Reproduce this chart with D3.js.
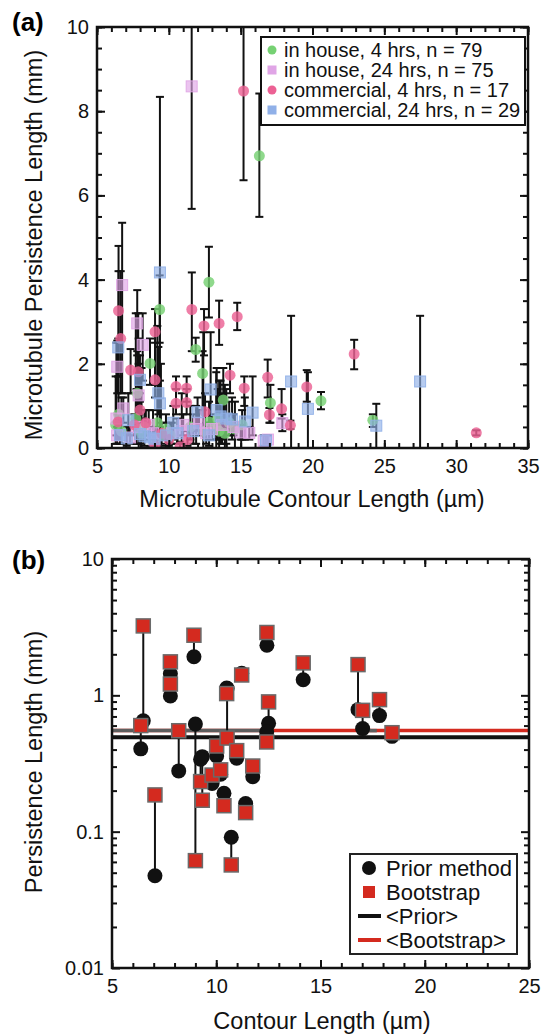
<!DOCTYPE html>
<html>
<head>
<meta charset="utf-8">
<script src="https://cdn.jsdelivr.net/npm/d3@7"></script>
<style>
  body { margin: 0; background: #fff; }
  svg { display: block; font-family: "Liberation Sans", Arial, sans-serif; }
  .tick text { font-size: 20px; fill: #111; }
</style>
</head>
<body>
<div id="chart"></div>
<script>
// ---------- panel (a) data: [contour length, persistence length, lower, upper] ----------
const inHouse4 = [
  [16.3, 6.94, 5.49, 8.42], [9.36, 3.29, 2.5, 4.1], [12.79, 3.94, 3.1, 4.78],
  [11.87, 2.34, 2.05, 2.62], [12.35, 1.77, 0.9, 2.3], [8.69, 2.01, 1.5, 2.6],
  [13.79, 1.14, 0.2, 1.9], [17.07, 1.07, 0.6, 1.5], [20.59, 1.12, 0.92, 1.33],
  [24.2, 0.66, 0.5, 0.8], [12.8, 0.62, 0.2, 1.1], [7.8, 1.3, 0.6, 2.3],
  [6.7, 0.4, 0.1, 1.2], [8.3, 0.5, 0.2, 0.9], [10.1, 0.3, 0.1, 0.6],
  [11.5, 0.5, 0.2, 1.0], [13.4, 0.7, 0.2, 1.4], [14.2, 0.6, 0.3, 1.1],
  [9.8, 0.45, 0.2, 0.8], [15.1, 0.55, 0.2, 0.9], [6.3, 0.55, 0.1, 1.7],
  [6.5, 0.8, 0.2, 4.2], [7.7, 0.7, 0.1, 3.2], [7.9, 0.45, 0, 2.6],
  [8.1, 0.35, 0, 1.9], [9.2, 0.6, 0, 2.9], [9.45, 0.3, 0, 2.0],
  [13.3, 0.5, 0, 1.8], [13.5, 0.4, 0, 1.6], [13.9, 0.35, 0, 1.5],
  [14.6, 0.45, 0, 1.1], [12.4, 0.4, 0, 2.75]
];
const inHouse24 = [
  [11.59, 8.59, 5.68, 11.5], [6.75, 3.87, 1.3, 5.35], [7.8, 2.96, 2.2, 3.75],
  [8.18, 2.45, 1.6, 3.2], [6.41, 1.93, 1.3, 2.55], [6.83, 0.94, 0.6, 1.2],
  [7.9, 1.25, 0.8, 2.0], [15.0, 0.37, 0.2, 0.55], [15.6, 0.36, 0.2, 0.5],
  [16.9, 0.2, 0.1, 0.3], [17.9, 0.59, 0.4, 0.8], [16.6, 0.17, 0.05, 0.3],
  [12.1, 0.6, 0.3, 0.9], [11.0, 0.55, 0.3, 0.8], [10.2, 0.35, 0.1, 0.6],
  [9.0, 0.2, 0.05, 0.5], [7.3, 0.25, 0.1, 0.5], [14.5, 0.5, 0.3, 0.8],
  [12.6, 0.35, 0.1, 0.6], [8.6, 0.55, 0.3, 0.9], [13.0, 0.45, 0.2, 0.8],
  [6.4, 0.3, 0.1, 0.5], [6.35, 0.7, 0.3, 2.5], [7.75, 0.5, 0.1, 1.4],
  [8.9, 0.35, 0.1, 0.9], [10.9, 0.4, 0.1, 1.3], [11.9, 0.45, 0.1, 1.0],
  [13.7, 0.55, 0.1, 1.3]
];
const commercial4 = [
  [15.2, 8.48, 6.36, 11.5], [6.5, 3.26, 1.7, 4.8], [6.65, 2.6, 1.3, 4.2],
  [9.04, 2.76, 1.5, 3.3], [11.6, 3.29, 2.3, 4.17], [12.45, 2.9, 2.2, 3.3],
  [13.5, 2.96, 2.45, 3.5], [14.76, 3.12, 2.8, 3.45], [22.9, 2.23, 1.87, 2.57],
  [16.88, 1.68, 1.2, 2.1], [14.26, 1.73, 1.3, 2.0], [15.25, 1.42, 1.0, 1.7],
  [19.6, 1.45, 1.1, 1.85], [17.85, 0.93, 0.7, 1.4], [7.34, 1.85, 1.3, 2.35],
  [7.87, 1.81, 1.3, 3.2], [9.04, 1.62, 1.2, 2.5], [10.5, 1.46, 1.0, 1.7],
  [11.24, 1.42, 1.1, 1.7], [10.5, 1.06, 0.8, 1.4], [11.24, 1.08, 0.8, 1.4],
  [18.46, 0.54, 0.45, 0.65], [17.0, 0.79, 0.6, 0.95], [31.4, 0.36, 0.3, 0.42],
  [7.99, 0.9, 0.5, 1.3], [6.48, 0.62, 0.45, 0.8], [9.04, 0.05, 0.0, 0.2],
  [10.78, 0.03, 0, 0.15], [11.3, 0.2, 0.05, 0.4], [12.52, 0.86, 0.5, 1.3],
  [8.4, 0.6, 0.3, 0.9], [10.0, 0.2, 0.05, 0.4], [9.5, 0.35, 0.1, 0.6],
  [7.6, 0.55, 0.3, 0.8]
];
const commercial24 = [
  [9.38, 4.17, 0, 8.34], [6.48, 2.39, 1.7, 2.6], [7.99, 1.62, 1.1, 2.2],
  [9.27, 1.3, 0.8, 2.4], [9.38, 1.06, 0.5, 1.6], [12.91, 1.39, 0.6, 2.75],
  [18.51, 1.58, 0, 3.14], [27.49, 1.58, 0, 3.14], [19.68, 0.93, 0, 1.8],
  [24.44, 0.53, 0, 1.05], [15.83, 0.84, 0.3, 1.7], [13.33, 0.9, 0.2, 1.9],
  [13.6, 0.75, 0.1, 1.6], [14.0, 0.7, 0.1, 1.4], [14.4, 0.68, 0.2, 1.2],
  [15.29, 0.63, 0.2, 1.2], [7.18, 0.66, 0.3, 1.3], [6.6, 0.31, 0.1, 0.6],
  [7.07, 0.23, 0.05, 0.5], [7.99, 0.33, 0.1, 0.7], [8.3, 0.28, 0.05, 0.6],
  [8.7, 0.25, 0.05, 0.5], [9.0, 0.22, 0.0, 0.5], [10.31, 0.6, 0.2, 1.0],
  [9.8, 0.3, 0.05, 0.6], [10.6, 0.35, 0.1, 0.7], [12.0, 0.85, 0.4, 1.2],
  [12.8, 0.3, 0.05, 0.6], [11.7, 0.4, 0.1, 0.8], [16.76, 0.18, 0.05, 0.3]
];
const seriesA = [
  { label: "in house, 4 hrs, n = 79", shape: "circle", color: "#76d173", data: inHouse4 },
  { label: "in house, 24 hrs, n = 75", shape: "square", color: "#e0a5e6", data: inHouse24 },
  { label: "commercial, 4 hrs, n = 17", shape: "circle", color: "#ec6194", data: commercial4 },
  { label: "commercial, 24 hrs, n = 29", shape: "square", color: "#90b0e8", data: commercial24 }
];
const aXTicks = [5, 10, 15, 20, 25, 30, 35];
const aYTicks = [0, 2, 4, 6, 8, 10];

// ---------- panel (b) data ----------
const bContour = [6.50, 6.38, 7.06, 7.80, 7.80, 8.20, 8.93, 9.00, 9.33, 9.25, 9.80, 10.02, 10.21, 10.37,
  10.50, 10.52, 10.98, 10.72, 11.22, 11.41, 11.75, 12.43, 12.51, 12.42, 14.17, 16.80, 17.02, 17.83, 18.43];
const bPrior = [0.65, 0.405, 0.0475, 1.44, 0.99, 0.279, 1.92, 0.616, 0.355, 0.34, 0.226, 0.359, 0.264, 0.191,
  1.13, 1.12, 0.346, 0.091, 1.45, 0.161, 0.253, 2.33, 0.623, 0.538, 1.30, 0.785, 0.57, 0.71, 0.50];
const bBoot = [3.23, 0.60, 0.186, 1.76, 1.21, 0.55, 2.76, 0.0613, 0.17, 0.233, 0.26, 0.425, 0.284, 0.155,
  1.03, 0.486, 0.393, 0.057, 1.41, 0.138, 0.303, 2.89, 0.895, 0.455, 1.73, 1.68, 0.776, 0.93, 0.532];
const priorMean = 0.493;
const bootMean = 0.551;
const bootGraySpans = [[5, 12.6], [17.15, 17.7]];
const bXTicks = [5, 10, 15, 20, 25];
const bYTicks = [0.01, 0.1, 1, 10];

const W = 549, H = 1036;
const svg = d3.select("#chart").append("svg").attr("width", W).attr("height", H);

function frameAxes(g, x, y, xMaj, xMin, yMaj, yMin, xFmt, yFmt) {
  const [x0, x1] = x.range(), [y0, y1] = y.range();
  const ax = [
    g.append("g").attr("transform", `translate(0,${y0})`)
      .call(d3.axisBottom(x).tickValues(xMaj).tickSize(-8).tickPadding(11).tickFormat(xFmt)),
    g.append("g").attr("transform", `translate(0,${y0})`)
      .call(d3.axisBottom(x).tickValues(xMin).tickSize(-5).tickFormat("")),
    g.append("g").attr("transform", `translate(0,${y1})`)
      .call(d3.axisTop(x).tickValues(xMaj).tickSize(-8).tickFormat("")),
    g.append("g").attr("transform", `translate(0,${y1})`)
      .call(d3.axisTop(x).tickValues(xMin).tickSize(-5).tickFormat("")),
    g.append("g").attr("transform", `translate(${x0},0)`)
      .call(d3.axisLeft(y).tickValues(yMaj).tickSize(-8).tickPadding(8).tickFormat(yFmt)),
    g.append("g").attr("transform", `translate(${x0},0)`)
      .call(d3.axisLeft(y).tickValues(yMin).tickSize(-5).tickFormat("")),
    g.append("g").attr("transform", `translate(${x1},0)`)
      .call(d3.axisRight(y).tickValues(yMaj).tickSize(-8).tickFormat("")),
    g.append("g").attr("transform", `translate(${x1},0)`)
      .call(d3.axisRight(y).tickValues(yMin).tickSize(-5).tickFormat(""))
  ];
  ax.forEach(a => {
    a.select(".domain").remove();
    a.selectAll(".tick line").attr("stroke", "#111").attr("stroke-width", 2);
  });
  g.append("rect")
    .attr("x", x0).attr("y", y1).attr("width", x1 - x0).attr("height", y0 - y1)
    .attr("fill", "none").attr("stroke", "#111").attr("stroke-width", 2.5);
}

// ================= panel (a) =================
const xA = d3.scaleLinear().domain([5, 35]).range([97, 528]);
const yA = d3.scaleLinear().domain([0, 10]).range([448, 27]);
const gA = svg.append("g");

svg.append("clipPath").attr("id", "clipA").append("rect")
  .attr("x", xA(5)).attr("y", yA(10)).attr("width", xA(35) - xA(5)).attr("height", yA(0) - yA(10));

const plotA = gA.append("g").attr("clip-path", "url(#clipA)");

// error bars
seriesA.forEach(s => {
  const eb = plotA.append("g").attr("stroke", "#111").attr("stroke-width", 2).attr("fill", "none");
  s.data.forEach(d => {
    eb.append("line").attr("x1", xA(d[0])).attr("x2", xA(d[0])).attr("y1", yA(d[2])).attr("y2", yA(d[3]));
    [d[2], d[3]].forEach(v => {
      eb.append("line").attr("x1", xA(d[0]) - 4).attr("x2", xA(d[0]) + 4).attr("y1", yA(v)).attr("y2", yA(v));
    });
  });
});

// markers
seriesA.forEach(s => {
  const g = plotA.append("g").attr("fill", s.color).attr("fill-opacity", 0.82);
  if (s.shape === "circle") {
    g.selectAll("circle").data(s.data).join("circle")
      .attr("cx", d => xA(d[0])).attr("cy", d => yA(d[1])).attr("r", 5.5);
  } else {
    g.selectAll("rect").data(s.data).join("rect")
      .attr("x", d => xA(d[0]) - 5.5).attr("y", d => yA(d[1]) - 5.5)
      .attr("width", 11).attr("height", 11)
      .attr("stroke", s.color).attr("stroke-width", 1).attr("stroke-opacity", 0.9)
      .attr("fill-opacity", 0.65);
  }
});

frameAxes(gA, xA, yA, aXTicks, d3.range(5, 36, 1), aYTicks, d3.range(0, 10.01, 0.5),
  d3.format("d"), d3.format("d"));

// legend (a)
const legA = gA.append("g");
legA.append("rect").attr("x", 261).attr("y", 37).attr("width", 264).attr("height", 88)
  .attr("fill", "#fff").attr("stroke", "#111").attr("stroke-width", 2);
seriesA.forEach((s, i) => {
  const cy = 50 + i * 20;
  if (s.shape === "circle") {
    legA.append("circle").attr("cx", 272).attr("cy", cy).attr("r", 4.5).attr("fill", s.color);
  } else {
    legA.append("rect").attr("x", 267.5).attr("y", cy - 4.5).attr("width", 9).attr("height", 9).attr("fill", s.color);
  }
  legA.append("text").attr("x", 284).attr("y", cy + 7).attr("font-size", 20).attr("fill", "#111").text(s.label);
});

svg.append("text").attr("x", 12).attr("y", 31).attr("font-size", 26).attr("font-weight", "bold").text("(a)");
svg.append("text").attr("x", 312).attr("y", 507).attr("text-anchor", "middle").attr("font-size", 23.5)
  .attr("fill", "#111").text("Microtubule Contour Length (\u00b5m)");
svg.append("text").attr("transform", "translate(42,245) rotate(-90)").attr("text-anchor", "middle")
  .attr("font-size", 23.5).attr("fill", "#111").text("Microtubule Persistence Length (mm)");

// ================= panel (b) =================
const xB = d3.scaleLinear().domain([5, 25]).range([112, 529]);
const yB = d3.scaleLog().domain([0.01, 10]).range([968, 559]);
const gB = svg.append("g");
const pairs = bContour.map((c, i) => ({ x: c, prior: bPrior[i], boot: bBoot[i] }));

const yMinorB = [];
[0.01, 0.1, 1].forEach(dec => d3.range(2, 10).forEach(k => yMinorB.push(dec * k)));

// mean lines
gB.append("line").attr("x1", xB(5)).attr("x2", xB(25)).attr("y1", yB(bootMean)).attr("y2", yB(bootMean))
  .attr("stroke", "#d42a1f").attr("stroke-width", 3.5);
gB.selectAll("line.gray").data(bootGraySpans).join("line").attr("class", "gray")
  .attr("x1", d => xB(d[0])).attr("x2", d => xB(d[1])).attr("y1", yB(bootMean)).attr("y2", yB(bootMean))
  .attr("stroke", "#5e5e5e").attr("stroke-width", 3.5);
gB.append("line").attr("x1", xB(5)).attr("x2", xB(25)).attr("y1", yB(priorMean)).attr("y2", yB(priorMean))
  .attr("stroke", "#111").attr("stroke-width", 4);

// connectors
gB.selectAll("line.pair").data(pairs).join("line").attr("class", "pair")
  .attr("x1", d => xB(d.x)).attr("x2", d => xB(d.x))
  .attr("y1", d => yB(d.prior)).attr("y2", d => yB(d.boot))
  .attr("stroke", "#111").attr("stroke-width", 2);

gB.selectAll("circle.prior").data(pairs).join("circle").attr("class", "prior")
  .attr("cx", d => xB(d.x)).attr("cy", d => yB(d.prior)).attr("r", 7.5).attr("fill", "#111");

gB.selectAll("rect.boot").data(pairs).join("rect").attr("class", "boot")
  .attr("x", d => xB(d.x) - 7).attr("y", d => yB(d.boot) - 7).attr("width", 14).attr("height", 14)
  .attr("fill", "#d42a1f").attr("stroke", "#6a6a6a").attr("stroke-width", 1.5);

frameAxes(gB, xB, yB, bXTicks, d3.range(5, 26, 1), bYTicks, yMinorB,
  d3.format("d"), d => d < 1 ? String(d) : d3.format("d")(d));

// legend (b)
const legB = gB.append("g");
legB.append("rect").attr("x", 350).attr("y", 854).attr("width", 167).attr("height", 100)
  .attr("fill", "#fff").attr("stroke", "#222").attr("stroke-width", 2);
const legBItems = ["Prior method", "Bootstrap", "<Prior>", "<Bootstrap>"];
legBItems.forEach((t, i) => {
  const cy = 868 + i * 24;
  if (i === 0) legB.append("circle").attr("cx", 369).attr("cy", cy).attr("r", 7).attr("fill", "#111");
  if (i === 1) legB.append("rect").attr("x", 363).attr("y", cy - 6).attr("width", 12).attr("height", 12).attr("fill", "#d42a1f");
  if (i === 2) legB.append("line").attr("x1", 358).attr("x2", 381).attr("y1", cy).attr("y2", cy).attr("stroke", "#111").attr("stroke-width", 4);
  if (i === 3) legB.append("line").attr("x1", 358).attr("x2", 381).attr("y1", cy).attr("y2", cy).attr("stroke", "#d42a1f").attr("stroke-width", 4);
  legB.append("text").attr("x", 386).attr("y", cy + 8).attr("font-size", 22).attr("fill", "#111").text(t);
});

svg.append("text").attr("x", 12).attr("y", 569).attr("font-size", 26).attr("font-weight", "bold").text("(b)");
svg.append("text").attr("x", 322).attr("y", 1029).attr("text-anchor", "middle").attr("font-size", 23.5)
  .attr("fill", "#111").text("Contour Length (\u00b5m)");
svg.append("text").attr("transform", "translate(42,762) rotate(-90)").attr("text-anchor", "middle")
  .attr("font-size", 23.5).attr("fill", "#111").text("Persistence Length (mm)");
</script>
</body>
</html>
